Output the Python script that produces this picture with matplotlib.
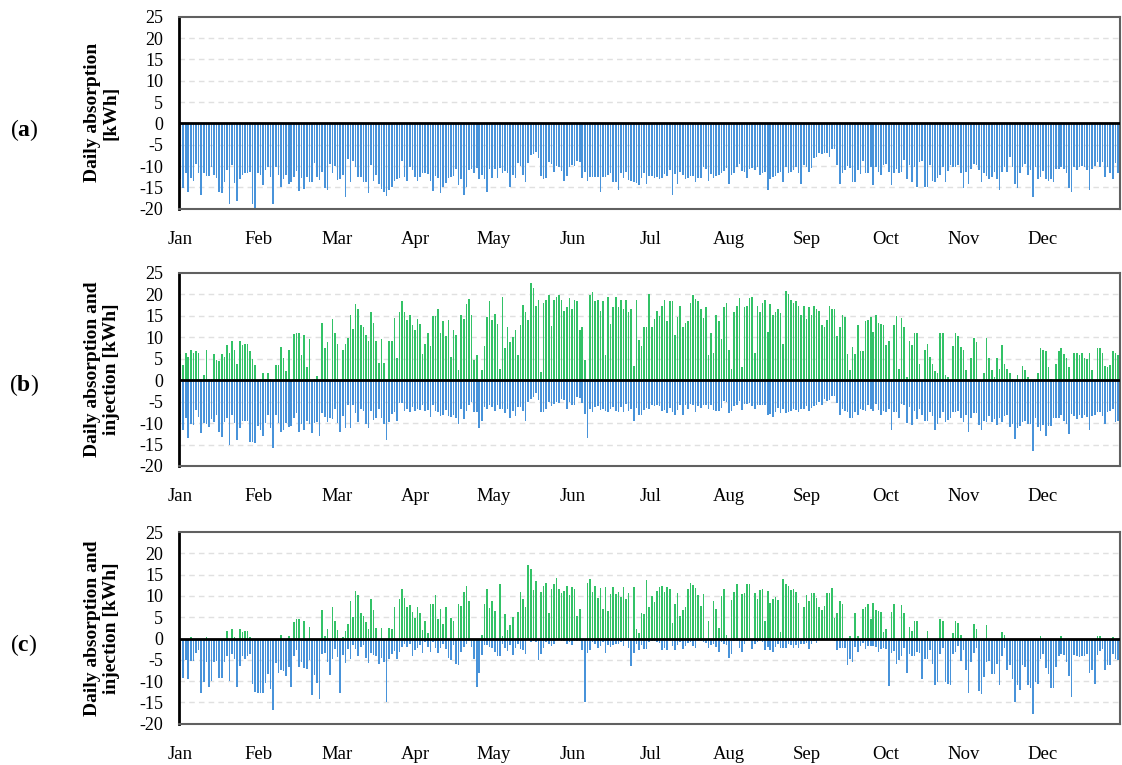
import numpy as np
import matplotlib.pyplot as plt

plt.rcParams['font.family'] = ['Liberation Serif', 'DejaVu Serif']
plt.rcParams['mathtext.fontset'] = 'custom'
plt.rcParams['mathtext.rm'] = 'Liberation Serif'
plt.rcParams['mathtext.bf'] = 'Liberation Serif:bold'
plt.rcParams['axes.unicode_minus'] = False

# daily values (kWh), Jan 1 .. Dec 31
absorption_a = [
    -13.1, -15.2, -11.7, -16, -12.9, -13.4, -9.5, -11.6, -16.8, -11.6,
    -12.3, -12.3, -10.2, -12, -12.9, -16, -16.3, -13.7, -10.9, -18.9,
    -9.8, -13.9, -18.1, -13.1, -12, -11.7, -11.7, -11.3, -18.9, -20,
    -11.7, -12.2, -14.5, -11, -10.2, -12.5, -18.9, -10.2, -12, -14.8,
    -13.1, -12.2, -14.2, -13.8, -12.5, -11.1, -15.9, -12.7, -15.3, -12.5,
    -13.8, -13.8, -9.2, -12.5, -13.3, -11.3, -15.2, -15.7, -9.5, -11.6,
    -10, -13.3, -13.1, -12, -17.3, -8.4, -13.8, -8.8, -10.2, -12.5,
    -12.5, -13.8, -13.8, -16.3, -9.8, -13.4, -12.2, -14.1, -15.3, -16,
    -17, -15.5, -14.8, -13.4, -13.1, -12.9, -8.8, -12.5, -13.4, -10.3,
    -10.9, -12.5, -13.4, -12.5,
    -11.6, -11.7, -11.9, -13.4, -15.9, -12.3, -12.9, -16.3, -14.8, -13.9,
    -12.7, -12.5, -12.3, -10.8, -14.5, -13.1, -16.8, -14.8, -10.9, -10.6,
    -11.6, -10.5, -13.1, -12.1, -13, -16, -10.6, -12.9, -10.6, -12.7,
    -10.5, -11.6, -11.1, -11.7, -14.8, -12, -12.7, -9.2, -10, -12,
    -13.8, -9.2, -7.3, -7.2, -6.6, -8.2, -12.3, -13.1, -12.9, -9,
    -9.5, -11.3, -10, -10.3, -11.1, -13.4, -12.3, -10.3, -9.8, -10,
    -8.9, -9.1, -12.7, -11.3, -13.4, -12.5, -12.5, -12.5, -12.5, -16,
    -12.5, -12.5, -12, -11.6, -13.8, -13.8, -15.5, -11.7, -12.9, -11.4,
    -13.3, -13.4, -13.8, -13.9, -14.4, -12.9, -11.7, -14.2, -12.3, -12.3,
    -12.9, -12.5,
    -13.1, -12.9, -11.9, -12.3, -10.9, -16.8, -11.9, -14.1, -11.3, -12.1,
    -13.1, -12.9, -12.3, -12.3, -13.7, -12.9, -12.9, -10.2, -10.8, -13.4,
    -11.9, -12.7, -12.3, -12.1, -11.6, -11.1, -10.5, -14.1, -12, -11.7,
    -10.2, -9.5, -11.1, -11.4, -12.9, -10.6, -10.5, -10.9, -10.2, -12.1,
    -11.7, -11.3, -15.6, -13.1, -12.5, -12.3, -11.7, -11.4, -13.8, -10.2,
    -11.6, -11.4, -10.9, -10.2, -11.6, -14.1, -9.8, -10.2, -11.3, -10.5,
    -8, -7.8, -7, -7.2, -7, -7, -7.8, -5.9, -5.9, -9.8,
    -14.3, -11.6, -10.9, -10, -10.5, -13.8, -13.8, -10.9, -11.9, -8.9,
    -11.6, -11.6, -10.2, -14.5, -10.3, -11.3, -12, -9.8, -9.5, -11.3,
    -14.5, -11.6, -10.6,
    -11.6, -11.3, -8.6, -13.1, -9.8, -13.8, -10.3, -14.8, -9, -8.8,
    -14.8, -14.8, -9.8, -13.4, -13.8, -12.9, -12, -10.2, -13.8, -11.1,
    -9.8, -10.2, -10.2, -9.8, -11.6, -15.2, -11.3, -14.2, -10.6, -9.5,
    -9.8, -10.9, -13.8, -11.7, -12.3, -13.1, -12.5, -11.3, -13, -15.5,
    -11.3, -10.2, -11.4, -7.8, -10.2, -14.2, -15.2, -11.7, -10.2, -9.5,
    -12, -10.9, -17.3, -10.2, -13, -12.5, -11.1, -13.1, -13.4, -13.1,
    -13.8, -10.8, -10.6, -10.2, -10.6, -11.7, -15.2, -16, -10.3, -10.9,
    -10.3, -10, -10.2, -10.9, -15.5, -10.6, -10, -9.1, -10.2, -9.1,
    -12.5, -10.2, -11.7, -13, -9.4, -11.7,
]

injection_b = [
    6, 3.5, 6.3, 5.3, 7, 6.4, 6.7, 6.3, 0.4, 1.2,
    7, 0.4, 0.4, 6, 4.6, 4.4, 6, 5.3, 8.1, 6.4,
    9.1, 7, 3.8, 9.1, 8.1, 8.4, 8.4, 6.9, 4.9, 3.5,
    0, 0.2, 1.6, 0.4, 1.6, 0.4, 0, 3.5, 3.5, 7.7,
    5.2, 2.1, 7, 0, 10.8, 11.1, 11, 5.8, 10.6, 3,
    9.5, 0, 0.4, 1, 0, 13.4, 7.4, 8.9, 0, 14.2,
    10.9, 8.4, 0, 7, 8.4, 9.8, 15.3, 11.9, 17.8, 16.7,
    12.8, 12.4, 10.6, 9.1, 15.9, 13.4, 9.2, 4.1, 9.5, 4.1,
    0, 9.2, 9.2, 14.5, 5.2, 15.9, 18.4, 15.9, 14, 15.3,
    12.9, 11.7, 14.2, 13,
    6, 8.5, 10.9, 8, 15, 14.9, 16.7, 11.1, 13.7, 10.2,
    14, 5.3, 11.7, 10.6, 2.4, 15.1, 14.3, 17.8, 19, 15.3,
    4.6, 5.8, 0, 2.4, 8, 14.8, 18.4, 14, 15.5, 13.1,
    2.7, 19.3, 7.4, 12.3, 8.8, 10, 11.7, 5.8, 12.8, 17.6,
    15.9, 14, 22.7, 21.6, 17.3, 18.7, 1.9, 17.9, 18.8, 19.9,
    12.6, 18.6, 19.3, 19.9, 18.7, 16.2, 17.1, 19.1, 16.7, 18.7,
    18.4, 11.6, 12.5, 4.6, 0, 19.8, 20.5, 18.4, 18.8, 16.2,
    18.4, 5.8, 19.3, 13.1, 17, 19.3, 17, 18.7, 16.7, 18.6,
    15.9, 16.7, 3.2, 18.7, 9.4, 8, 12.5, 12.5, 20.2, 12.3,
    14.3, 16.2, 15,
    17.3, 18.8, 13.7, 18.5, 18.4, 10.6, 14.8, 17.4, 12.3, 13.4,
    13.9, 18.1, 19.8, 19, 18.4, 16.7, 14.5, 17, 5.8, 10.9,
    6.3, 15.3, 13.7, 9.5, 17, 18.1, 7, 2.7, 15.9, 17.4,
    19.1, 3, 17, 17.3, 19.1, 19.5, 6.3, 17.3, 15.9, 18.1,
    18.7, 11.2, 17.8, 15.1, 15.9, 16.5, 15.6, 8.4, 20.9, 20.1,
    18.8, 18.1, 18.4, 17.4, 15.1, 17.3, 14.2, 17, 15.3, 17.3,
    16.7, 16.2, 12.8, 12.3, 14, 17.3, 16.7, 16.7, 10.2, 12.3,
    15.3, 14.8, 6, 2.4, 7.7, 6, 12.8, 6.7, 6.7, 13.7,
    14, 14.8, 11.2, 15.1, 13.4, 13.1, 12.8, 8.1, 9.1, 0.2,
    12.8, 15,
    2.7, 14.5, 12.3, 0.8, 9.2, 8.1, 10.9, 10.9, 3.8, 0,
    7, 8.4, 5.3, 3.8, 2.1, 1.6, 11.1, 10.9, 1.3, 0.7,
    0, 7.9, 10.9, 10.2, 7.7, 7, 2.4, 0.4, 5.2, 9.8,
    8.8, 0, 0, 1.6, 9.8, 5.2, 2.4, 0.7, 5.2, 2.7,
    8.1, 3.8, 2.7, 1.6, 0.4, 0, 1.3, 0, 3.2, 2.4,
    0.7, 0, 0, 0, 1.6, 7.4, 7, 6.7, 3, 0.4,
    0, 3.8, 6.7, 7.4, 6, 5.2, 3, 0, 6.3, 6.4,
    5.8, 6.4, 5.2, 4.9, 6.4, 2.4, 0, 7.4, 7.4, 6.4,
    3.2, 3, 3.5, 6.7, 6.4, 5.8,
]

absorption_b = [
    -9.8, -11.6, -8.9, -13.4, -10.2, -10.5, -6.9, -8.6, -12.3, -10,
    -10.2, -10.9, -9.1, -9.7, -8, -12, -13.3, -9.7, -8.8, -15.1,
    -8, -10, -14, -11.1, -9.4, -9.4, -9.4, -14.3, -14.5, -14.7,
    -10.6, -11.6, -12.9, -10, -8, -11.1, -15.7, -8.1, -10, -12,
    -11.6, -10, -10.9, -10.6, -8.8, -7.7, -12, -10.2, -11.7, -9.5,
    -10.3, -12.3, -10, -9.7, -12.9, -7.7, -8.6, -9.7, -8.8, -9.1,
    -6.6, -10, -12, -8.3, -11.2, -5.8, -11.2, -5.7, -7.7, -9.7,
    -6.6, -7.1, -10.2, -11.2, -7.1, -9.2, -8.9, -6.7, -8.9, -10.2,
    -14, -9.7, -7.8, -7.4, -9.4, -5.2, -5.3, -7.1, -6.6, -7.4,
    -6.3, -7.1, -6.7, -7,
    -5.8, -7.1, -6.9, -8.6, -5.8, -7.1, -7.4, -8.4, -8, -6.9,
    -8.3, -8.6, -8, -8.8, -10.2, -6.6, -9.1, -7.1, -5.8, -5,
    -7.5, -7.5, -11.2, -9.4, -6.3, -6.7, -5.8, -6.3, -7.1, -5.8,
    -6.7, -6.7, -7.7, -6.6, -8.8, -7.1, -8.4, -6.3, -6.3, -7.1,
    -9.4, -5, -4.3, -3.8, -3, -4.6, -7.4, -7.4, -6.6, -5,
    -6, -5.5, -5, -5.3, -4.4, -4.7, -6.7, -5, -5.8, -5.8,
    -3.8, -4.1, -5.3, -7.8, -13.4, -6.6, -7.5, -6.3, -6, -6.9,
    -6.6, -7.1, -7.4, -6.6, -6.3, -7.1, -7.4, -6.3, -7.5, -5.5,
    -7.1, -6.6, -9.4, -6.4, -8.1, -8.1, -6.9, -6.4, -6.7, -5.7,
    -6.1, -5.7, -6,
    -7.1, -6.9, -7.7, -6.4, -7.4, -8, -6.9, -5.8, -8, -5.8,
    -6.6, -5.5, -5.8, -7.4, -6.1, -6.4, -5.8, -5.8, -6.6, -5.8,
    -6.9, -7.1, -7.1, -6.4, -4.9, -5, -7.7, -7.1, -6.1, -5.8,
    -4.9, -6.9, -5.5, -5.5, -5.2, -6, -6.6, -5.7, -5.7, -5.8,
    -5.7, -8.1, -7.8, -8.6, -7.5, -6.4, -7.7, -6.6, -7.7, -7.4,
    -7.1, -6.6, -6.9, -7.4, -6.6, -6.6, -6.1, -7.2, -6.4, -6,
    -5.8, -5, -5.8, -4.3, -4.9, -4.6, -3.6, -3.6, -5.3, -8,
    -6.6, -7.1, -7.4, -8.9, -8.8, -7.4, -8.1, -6.7, -6.9, -7.1,
    -5.8, -6.7, -7.2, -5.5, -6.9, -8.1, -7.1, -7.4, -6.7, -11.6,
    -7.4, -7.5,
    -8.8, -5.5, -5.8, -10, -6.3, -10.5, -7.1, -9.1, -6.6, -8.1,
    -9.4, -9.4, -7.4, -8.4, -11.6, -10.3, -8.9, -7.4, -9.7, -9.2,
    -8.9, -7.4, -7.4, -7.1, -8.8, -9.7, -8.1, -12, -8.9, -7.7,
    -7.7, -10.5, -11.7, -9.4, -9.8, -8.4, -9.7, -9.1, -10.5, -8.8,
    -9.7, -8.4, -8.1, -10.8, -10.2, -13.7, -11.1, -10.6, -9.7, -9.4,
    -10.2, -10.2, -16.4, -8.8, -10.9, -11.9, -10.5, -12.9, -10.6, -10.6,
    -8.8, -8.8, -8.8, -8.1, -9.4, -10.2, -12.6, -7.8, -8.4, -9.1,
    -8, -8.8, -8.1, -8.6, -11.6, -8.4, -8, -7.5, -7.4, -8.4,
    -10.3, -7.5, -7.2, -6.6, -9.8, -9.5,
]

injection_c = [
    0, 0, 0, 0, 0.3, 0, 0, 0, 0, 0,
    0.3, 0, 0, 0, 0, 0, 0, 0, 1.7, 0,
    2.3, 0.3, 0, 2.3, 1.6, 1.7, 1.7, 0.3, 0, 0,
    0, 0, 0, 0, 0, 0, 0, 0, 0, 0.9,
    0, 0, 0.6, 0, 3.8, 4.5, 4.5, 0, 4.1, 0,
    2.8, 0, 0, 0, 0, 6.7, 0.6, 2.3, 0, 7.5,
    4.2, 1.9, 0, 0.3, 1.7, 3.4, 8.8, 5, 11.1, 10.2,
    5.9, 5.3, 3.9, 2.3, 9.2, 6.7, 2.5, 0, 2.5, 0,
    0, 2.5, 2.3, 7.5, 0, 9.2, 11.7, 9.5, 7.3, 7.8,
    6.3, 4.8, 7.5, 6,
    1.9, 4.1, 1.25, 8.1, 8, 10.2, 4.5, 7, 3.4, 7.3,
    0, 4.8, 4.1, 0, 8.1, 7.7, 10.9, 12.3, 8.75, 0,
    0, 0, 0, 0.9, 8.1, 11.7, 7.2, 8.75, 6.5, 0,
    12.7, 0.6, 5.8, 2, 3.1, 5, 0, 6.25, 10.9, 9.2,
    7.3, 17.3, 16.2, 11.4, 13.4, 0, 10.9, 12.3, 13.1, 6,
    11.7, 12.7, 14.2, 11.7, 10.6, 11.1, 12.3, 10.2, 12, 11.7,
    5.3, 7, 0, 0, 13.1, 13.9, 10.9, 12.3, 9.5, 11.9,
    6.9, 12.1, 6.4, 10.5, 12.1, 10.5, 10.9, 9.7, 12, 9.2,
    10.6, 0, 12, 2.3, 1.25, 6, 5.8, 13.75, 7.3, 10,
    8.6, 11.1, 12,
    12.3, 10.9, 12, 11.6, 3.75, 8.1, 10.6, 5.3, 6.6, 7.3,
    11.6, 13, 12.5, 11.9, 10.2, 7.7, 10.5, 0, 4.2, 0,
    8.75, 7, 2.5, 10, 11.6, 0.8, 0, 9, 10.9, 12.7,
    0, 10.5, 10.6, 12.7, 12.8, 0, 10.6, 9.2, 11.3, 11.7,
    4.2, 11.1, 8.4, 9.2, 9.7, 9, 1.6, 13.9, 12.8, 12.3,
    11.4, 11.7, 10.9, 8.4, 0, 7.3, 10.2, 8.75, 10.6, 10.6,
    9.5, 7.3, 6.6, 7.7, 10.6, 10.6, 11.9, 4.8, 6, 8.75,
    8.1, 0, 0, 0.6, 0, 6, 0.6, 0, 7, 7.3,
    8.1, 4.5, 8.4, 6.6, 6.4, 6.25, 1.6, 2.3, 0, 6.25,
    8.1, 0, 0,
    7.8, 6, 0, 2.8, 1.7, 4.1, 4.2, 0, 0, 0,
    1.7, 0, 0, 0, 0, 4.5, 4.2, 0, 0, 0,
    1.25, 4.2, 3.75, 0.9, 0, 0, 0, 0, 3.4, 2.3,
    0, 0, 0, 3.1, 0, 0, 0, 0, 0, 1.6,
    0.9, 0, 0, 0, 0, 0, 0, 0, 0, 0,
    0, 0, 0, 0, 0.5, 0, 0, 0, 0, 0,
    0, 0, 0.6, 0, 0, 0, 0, 0, 0, 0,
    0, 0, 0, 0, 0, 0, 0.5, 0.5, 0, 0,
    0, 0, 0.3, 0, 0,
]

absorption_c = [
    -2.8, -9.2, -5, -9.5, -5.3, -5.3, -3.4, -2.8, -12.8, -10.3,
    -5.5, -11.4, -10, -5.5, -5.3, -9.2, -9.2, -5.5, -4.2, -10,
    -3.6, -4.7, -11.4, -6.4, -4.1, -4.7, -4.1, -3.6, -10.6, -12.5,
    -12.7, -12.8, -12.8, -10.5, -8.4, -11.9, -16.9, -5.8, -8.1, -7.5,
    -7.7, -8.9, -6.6, -11.4, -4.1, -2.7, -6.7, -5.5, -6.9, -7.2,
    -5, -13.3, -8.6, -10.5, -14.2, -3.6, -3.3, -5.5, -8.6, -4.7,
    -2.5, -4.4, -12.8, -3.9, -5.8, -2.5, -4.7, -1.6, -2.5, -4.1,
    -2, -1.6, -4.5, -5.8, -3.4, -3.9, -4.2, -6.1, -4.5, -5.5,
    -15, -4.8, -3.75, -3, -4.7, -3.1, -1.9, -1.25, -1.9, -1.4,
    -4.2, -2.7, -2.2, -1.5,
    -3.4, -0.9, -2, -3.1, -0.9, -2.3, -3.4, -2.2, -1.25, -2.5,
    -4.5, -5, -1.6, -5.9, -6.2, -3.1, -2, -1.25, -0.5, -1.9,
    -4.8, -11.4, -8.1, -3.9, -1.6, -1.6, -2, -2.3, -3.1, -4.2,
    -4.2, -1.25, -2.3, -3, -1.6, -3.9, -2.2, -1.25, -2.5, -2.8,
    -3.75, -0.3, -0.8, -0.5, -0.8, -5, -3.75, -2.3, -0.8, -1.25,
    -1.7, -1.25, -0.2, -0.3, -0.5, -0.6, -1.25, -0.8, -1.6, -0.5,
    -0.5, -0.5, -2.8, -14.8, -3.4, -2.7, -0.8, -1.25, -2.2, -1.7,
    -0.9, -3.4, -1.6, -1.9, -1.6, -1.25, -1.25, -0.8, -1.7, -0.6,
    -2.3, -6.4, -3.3, -1.25, -2.8, -1.6, -2.5, -2.5, -0.8, -0.5,
    -0.5, -0.8, -1,
    -2.8, -2.3, -2.8, -0.6, -1.7, -2.7, -1.6, -0.8, -2.4, -1.7,
    -1.1, -0.8, -1.7, -2.3, -0.5, -0.6, -0.9, -1.1, -2.3, -1.6,
    -1.25, -1.9, -3.1, -0.8, -1.25, -1.6, -4.5, -3.75, -0.6, -0.6,
    -2.3, -3.1, -1.25, -0.6, -0.5, -2.5, -1.25, -0.9, -0.6, -0.9,
    -2.8, -2, -2.8, -3.1, -2, -1.25, -2.3, -2.3, -2.3, -1.25,
    -1.6, -2.3, -1.6, -2.3, -1.25, -1.4, -1.1, -2.5, -1.4, -0.5,
    -1.1, -0.2, -0.2, -0.2, -0.2, -0.2, -0.2, -0.6, -2.8, -2.3,
    -2.3, -2.3, -6.25, -4.8, -5.5, -2, -3.1, -1.7, -1.1, -2.5,
    -1.7, -1.7, -1.7, -2, -3.1, -2.5, -2.3, -2.5, -11.25, -3.4,
    -3, -6, -5,
    -4.1, -2.3, -8.1, -3.75, -4.1, -4.1, -3.1, -3.4, -9.6, -4.7,
    -4.8, -2.8, -6, -10.9, -10.3, -3.75, -2.3, -10.2, -10.6, -10.8,
    -3.75, -3.1, -1.7, -5.3, -2.7, -7.3, -12.9, -5.6, -3.4, -2.3,
    -12.3, -13.1, -9.1, -5.6, -5.2, -8.4, -8.4, -6, -11, -4.2,
    -2.3, -7.3, -6.25, -9.6, -14.8, -10.9, -12, -6.25, -6.6, -10.9,
    -11.7, -17.8, -10.3, -10.6, -4.8, -3.6, -6.9, -8.4, -11.7, -11.7,
    -6.7, -4.1, -3.75, -3.9, -5.6, -8.75, -13.75, -3.9, -4.1, -4.4,
    -4.2, -4.2, -3.75, -8.1, -7.5, -10.6, -3.9, -3, -2.5, -7.3,
    -6.25, -6.25, -3.75, -4.7, -5,
]

month_names = ['Jan', 'Feb', 'Mar', 'Apr', 'May', 'Jun',
               'Jul', 'Aug', 'Sep', 'Oct', 'Nov', 'Dec']

BLUE = '#4893da'
GREEN = '#33c267'


def draw_panel(ax, absorption, injection=None):
    days = np.arange(len(absorption))
    ax.bar(days, absorption, width=0.62, color=BLUE, linewidth=0, zorder=2)
    if injection is not None:
        ax.bar(np.arange(len(injection)), injection, width=0.62, color=GREEN,
               linewidth=0, zorder=2)
    ax.axhline(0, color='black', lw=2, zorder=3)
    ax.set_xlim(-0.8, 364.8)
    ax.set_ylim(-20, 25)
    ax.set_yticks(range(-20, 30, 5))
    for v in range(-20, 25, 5):
        if v != 0:
            ax.axhline(v, color='#e0e0e0', lw=1, ls=(0, (4, 3)), zorder=1)
    ax.set_xticks(np.arange(12) * 365 / 12)
    ax.set_xticklabels(month_names)
    ax.tick_params(axis='x', length=0, pad=16, labelsize=13.5)
    ax.tick_params(axis='y', length=0, pad=11, labelsize=13)
    for s in ['top', 'right', 'bottom']:
        ax.spines[s].set_color('#606060')
        ax.spines[s].set_linewidth(1.5)
    ax.spines['left'].set_color('black')
    ax.spines['left'].set_linewidth(2)


fig = plt.figure(figsize=(11.22, 7.65), dpi=100)
left, width = 178.5 / 1122, 941.5 / 1122
ax_a = fig.add_axes([left, 1 - 208.7 / 765, width, 192 / 765])
ax_b = fig.add_axes([left, 1 - 466 / 765, width, 193 / 765])
ax_c = fig.add_axes([left, 1 - 723.7 / 765, width, 191.7 / 765])

draw_panel(ax_a, absorption_a)
draw_panel(ax_b, absorption_b, injection_b)
draw_panel(ax_c, absorption_c, injection_c)

ylabels = ['Daily absorption\n[kWh]',
           'Daily absorption and\ninjection [kWh]',
           'Daily absorption and\ninjection [kWh]']
for ax, lab, tag, ty in zip([ax_a, ax_b, ax_c], ylabels, ['a', 'b', 'c'],
                            [130, 385, 645]):
    pos = ax.get_position()
    fig.text(102 / 1122, (pos.y0 + pos.y1) / 2, lab, rotation=90,
             ha='center', va='center', multialignment='center',
             fontsize=14, fontweight='bold', linespacing=1.1)
    fig.text(24 / 1122, 1 - ty / 765, r'($\mathbf{%s}$)' % tag,
             ha='center', va='center', fontsize=17)

fig.savefig('out.png', dpi=100)
